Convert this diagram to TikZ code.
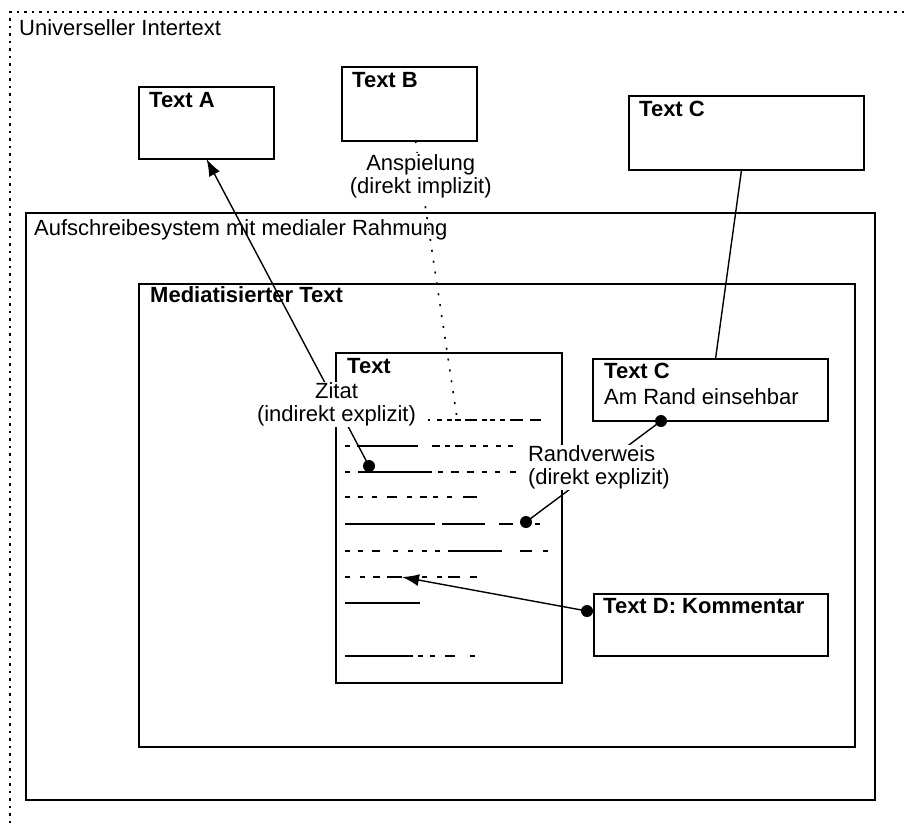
\documentclass[tikz,border=0pt]{standalone}
\usepackage{fontspec}
\setmainfont{Liberation Sans}
\usetikzlibrary{arrows.meta}
\begin{document}
\begin{tikzpicture}[x=1pt,y=-1pt,
  font=\fontsize{22}{23}\selectfont,
  box/.style={draw,line width=1.5pt,anchor=north west,inner sep=0pt,outer sep=0pt},
  title/.style={anchor=base west,inner sep=0pt,font=\fontsize{22}{23}\selectfont\bfseries},
  caption/.style={anchor=base west,inner sep=0pt},
  remark/.style={fill=white,inner sep=1pt,align=center},
  textline/.style={line width=2.5pt},
  ref/.style={line width=1.4pt},
  pointer/.style={-{Latex[length=17pt,width=12pt]}},
  pin/.style={circle,fill,inner sep=0pt,minimum size=12pt}]
  \useasboundingbox (0,0) rectangle (904,823);
  \draw[line width=1.4pt,dash pattern=on 2.5pt off 5pt] (904,12) -- (10,12) -- (10,823);
  \node[caption] (intertext) at (19,35) {Universeller Intertext};

  \node[box,minimum width=135pt,minimum height=72pt] (textA) at (139,87) {};
  \node[box,minimum width=135pt,minimum height=74pt] (textB) at (342,67) {};
  \node[box,minimum width=235pt,minimum height=74pt] (textC) at (629,96) {};
  \node[box,minimum width=849pt,minimum height=587pt] (system) at (26,213) {};
  \node[box,minimum width=716pt,minimum height=463pt] (medial) at (139,284) {};
  \node[box,minimum width=226pt,minimum height=330pt] (text) at (336,353) {};
  \node[box,minimum width=235pt,minimum height=62pt] (textCm) at (593,359) {};
  \node[box,minimum width=234pt,minimum height=62pt] (textD) at (594,594) {};

  \node[title] (textAtitle) at ([shift={(10,20)}]textA.north west) {Text A};
  \node[title] (textBtitle) at ([shift={(10,20)}]textB.north west) {Text B};
  \node[title] (textCtitle) at ([shift={(10,20)}]textC.north west) {Text C};
  \node[caption] (systemtitle) at ([shift={(8,22)}]system.north west) {Aufschreibesystem mit medialer Rahmung};
  \node[title] (medialtitle) at ([shift={(11,18)}]medial.north west) {Mediatisierter Text};
  \node[title] (texttitle) at ([shift={(11,20)}]text.north west) {Text};
  \node[title] (textCmtitle) at ([shift={(11,19)}]textCm.north west) {Text C};
  \node[caption] (textCmnote) at ([shift={(11,45)}]textCm.north west) {Am Rand einsehbar};
  \node[title] (textDtitle) at ([shift={(9,19)}]textD.north west) {Text D: Kommentar};

  \foreach \y/\segs in {
    420/{428/430,437/442,447/452,455/461,465/477,482/487,490/495,500/505,510/523,530/541},
    446/{345/350,357/418,432/440,445/450,455/463,470/476,483/488,496/501,508/513},
    472/{345/350,358/432,438/443,451/459,467/474,482/487,495/500,510/516},
    497/{345/350,358/363,372/377,387/397,407/412,420/427,433/438,447/452,463/477},
    524/{345/435,442/485,499/513,535/540},
    551/{345/350,358/363,372/380,393/398,408/413,422/427,435/440,448/502,520/532,543/548},
    577/{345/350,360/365,373/380,387/402,422/427,437/442,448/460,470/477},
    603/{345/420},
    656/{345/413,418/423,430/435,445/455,470/475}}
    \foreach \a/\b in \segs
      \draw[textline] (\a,\y) -- (\b,\y);

  \node[pin] (zitatpin) at (369,466) {};
  \node[pin] (randpin) at (526,522) {};
  \node[pin] (textCmpin) at (661,421) {};
  \node[pin] (kommentarpin) at (587,611) {};
  \coordinate (anspielend) at (457,418);
  \coordinate (kommentarend) at (402,577);

  \draw[ref] ([xshift=-5pt]textC.south) -- ([xshift=5pt]textCm.north);
  \draw[ref,pointer] (zitatpin.center) -- (textA.south)
    node[remark,pos=.2] (zitat) {Zitat\\(indirekt explizit)};
  \draw[ref,line width=1.6pt,dash pattern=on 2pt off 9pt] ([xshift=6pt]textB.south) -- (anspielend)
    node[remark,pos=.126] (anspielung) {Anspielung\\(direkt implizit)};
  \draw[ref] (randpin.center) -- (textCmpin.center)
    node[remark,pos=.54,align=left] (randverweis) {Randverweis\\(direkt explizit)};
  \draw[ref,pointer] (kommentarpin.center) -- (kommentarend);
\end{tikzpicture}
\end{document}
